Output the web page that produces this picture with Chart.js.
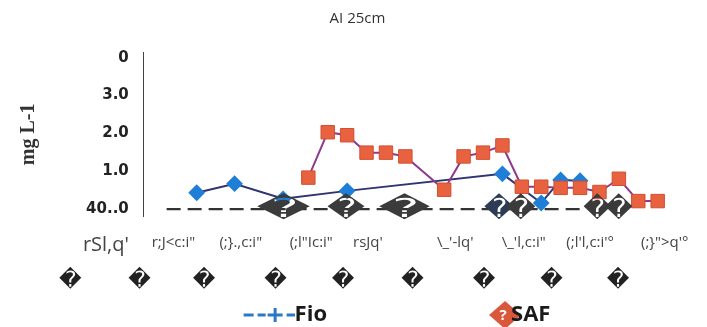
<!DOCTYPE html>
<html>
<head>
<meta charset="utf-8">
<script src="https://cdn.jsdelivr.net/npm/chart.js@4.4.1/dist/chart.umd.min.js"></script>
<style>
  html, body { margin: 0; padding: 0; background: #fff; }
</style>
</head>
<body>
<canvas id="chart" width="707" height="327"></canvas>
<script>
// values (x in weeks, y in mg L-1)
const fioX = [3.25, 5.2, 7.7, 11, 19, 21, 22, 23];
const fioY = [0.43, 0.67, 0.27, 0.48, 0.93, 0.16, 0.77, 0.75];
const safX = [9, 10, 11, 12, 13, 14, 16, 17, 18, 19, 20, 21, 22, 23, 24, 25, 26, 27];
const safY = [0.83, 2.03, 1.95, 1.49, 1.49, 1.39, 0.51, 1.39, 1.49, 1.68, 0.59, 0.59, 0.56, 0.56, 0.45, 0.80, 0.21, 0.21];

const yTicks = [0, 1, 2, 3, 4];
const yTickLabels = ['40..0', '1.0', '2.0', '3.0', '0'];
const xTickPos = [-1.43, 2.05, 5.52, 9.15, 12.07, 16.57, 20.1, 23.52, 27.36];
const xTickLabels = ["rSl,q'", 'r;J<c:i"', '(;}.,c:i"', '(;l"Ic:i"', "rsJq'", "\\_'-lq'", "\\_'l,c:i\"", "(;l'l,c:i'°", "(;}\">q'°"];
const glyphRowPos = [-3.27, 0.31, 3.63, 7.31, 10.79, 14.37, 18.05, 21.53, 24.96];
const baseGlyphX = [7.72, 10.94, 13.96, 18.82, 19.94, 23.88, 25.0];
const baseLineX = [1.7, 23.3];

// how wide each broken glyph on the axis line is stretched (px)
const glyphStretch = [54, 38, 52, 30, 30, 28, 28];

function makeIcon(w, h, draw) {
    const c = document.createElement('canvas');
    c.width = w;
    c.height = h;
    draw(c.getContext('2d'));
    return c;
}

const fioIcon = makeIcon(192, 24, function(ctx) {
    ctx.strokeStyle = '#2a78c8';
    ctx.lineWidth = 3;
    ctx.beginPath();
    [[141, 151], [155, 163], [165, 180], [184, 192]].forEach(s => {
        ctx.moveTo(s[0], 12);
        ctx.lineTo(s[1], 12);
    });
    ctx.moveTo(172.5, 5);
    ctx.lineTo(172.5, 19);
    ctx.stroke();
});

const safIcon = makeIcon(232, 30, function(ctx) {
    ctx.fillStyle = '#d9573b';
    ctx.beginPath();
    ctx.moveTo(190, 15);
    ctx.lineTo(206, 1);
    ctx.lineTo(222, 15);
    ctx.lineTo(206, 29);
    ctx.closePath();
    ctx.fill();
    ctx.fillStyle = '#fff';
    ctx.font = 'bold 15px "Open Sans"';
    ctx.textAlign = 'center';
    ctx.textBaseline = 'middle';
    ctx.fillText('?', 204, 16);
});

const baseGlyphs = {
    id: 'baseGlyphs',
    afterDatasetsDraw(chart) {
        const ctx = chart.ctx;
        const x = chart.scales.x;
        const y = chart.scales.y;
        ctx.save();
        ctx.font = '26px "DejaVu Sans"';
        ctx.textAlign = 'center';
        ctx.textBaseline = 'middle';
        const gw = ctx.measureText('\uFFFD').width;
        baseGlyphX.forEach((v, i) => {
            ctx.save();
            ctx.translate(x.getPixelForValue(v), y.getPixelForValue(0));
            ctx.scale(glyphStretch[i] / gw, 1);
            ctx.fillStyle = i === 3 ? '#2d3b55' : '#3b3b3b';
            ctx.fillText('\uFFFD', 0, 1);
            ctx.restore();
        });
        ctx.restore();
    }
};

// legend sits a bit left of centre and low in the picture
const legendNudge = {
    id: 'legendNudge',
    afterLayout(chart) {
        chart.legend.right -= 51;
        chart.legend.top += 7;
        chart.legend.bottom += 7;
    }
};

function fixedTicks(list) {
    return function(scale) {
        scale.ticks = list.map(v => ({ value: v }));
    };
}

const hiddenGrid = { display: true, drawOnChartArea: false, color: 'transparent' };

new Chart(document.getElementById('chart'), {
    type: 'line',
    data: {
        datasets: [{
            label: 'Fio',
            data: fioX.map((x, i) => ({ x: x, y: fioY[i] })),
            borderColor: '#2f3570',
            borderWidth: 2,
            pointStyle: 'rectRot',
            pointRadius: 7,
            pointBackgroundColor: '#1f7fd8',
            pointBorderColor: '#1f7fd8',
            order: 1
        }, {
            label: 'SAF',
            data: safX.map((x, i) => ({ x: x, y: safY[i] })),
            borderColor: '#8d3a8c',
            borderWidth: 2,
            pointStyle: 'rect',
            pointRadius: 9.5,
            pointBackgroundColor: '#e8623f',
            pointBorderColor: '#d24f30',
            pointBorderWidth: 1,
            order: 0,
            clip: false
        }, {
            label: 'axis',
            data: baseLineX.map(x => ({ x: x, y: 0 })),
            borderColor: '#333',
            borderWidth: 2.2,
            borderDash: [14, 7],
            pointRadius: 0,
            order: 2
        }]
    },
    options: {
        responsive: false,
        animation: false,
        layout: { padding: { left: 14, right: 6, top: 0, bottom: -2 } },
        scales: {
            x: { type: 'linear', min: -4, max: 29, display: false },
            xl: {
                type: 'linear', position: 'bottom', min: -4, max: 29,
                grid: Object.assign({ tickLength: 15 }, hiddenGrid),
                border: { display: false },
                afterBuildTicks: fixedTicks(xTickPos),
                ticks: {
                    autoSkip: false, maxRotation: 0, minRotation: 0, padding: 2, color: '#444',
                    font: c => ({ family: 'Open Sans', size: c.index === 0 ? 20 : 15 }),
                    callback: (v, i) => xTickLabels[i]
                }
            },
            xd: {
                type: 'linear', position: 'bottom', min: -4, max: 29,
                grid: { display: false }, border: { display: false },
                afterBuildTicks: fixedTicks(glyphRowPos),
                ticks: {
                    autoSkip: false, maxRotation: 0, minRotation: 0, padding: 0, color: '#222',
                    font: { family: 'DejaVu Sans', size: 22 },
                    callback: () => '\uFFFD'
                }
            },
            y: {
                type: 'linear', position: { x: -0.25 }, min: -0.2, max: 4.15,
                afterBuildTicks: fixedTicks(yTicks),
                grid: { display: false },
                border: { display: false },
                ticks: {
                    padding: 0, color: '#222',
                    font: { family: 'DejaVu Sans', size: 15, weight: 'bold' },
                    callback: (v, i) => yTickLabels[i]
                }
            },
            yline: {
                type: 'linear', position: { x: 0.5 }, min: -0.2, max: 4.15,
                grid: { display: false },
                border: { color: '#444', width: 1 },
                ticks: { display: false }
            },
            yt: {
                type: 'linear', position: 'left', min: 0, max: 1,
                grid: { display: false }, border: { display: false },
                ticks: { display: false },
                title: {
                    display: true, text: 'mg L-1', color: '#333',
                    font: { family: 'Liberation Serif', size: 20, weight: 'bold' },
                    padding: { top: 3, bottom: 3 }
                },
                afterFit: s => { s.width = 42; }
            }
        },
        plugins: {
            title: {
                display: true, text: 'AI 25cm', color: '#333',
                font: { family: 'Open Sans', size: 15, weight: 'normal' },
                padding: { top: 10, bottom: 24 }
            },
            legend: {
                position: 'bottom',
                labels: {
                    usePointStyle: true,
                    pointStyleWidth: 170,
                    padding: 3,
                    font: { family: 'Open Sans', size: 22, weight: 'bold' },
                    generateLabels: () => [
                        { text: 'Fio', pointStyle: fioIcon, fillStyle: 'transparent', strokeStyle: 'transparent', lineWidth: 0, fontColor: '#1a1a1a', datasetIndex: 0, hidden: false },
                        { text: 'SAF', pointStyle: safIcon, fillStyle: 'transparent', strokeStyle: 'transparent', lineWidth: 0, fontColor: '#1a1a1a', datasetIndex: 1, hidden: false }
                    ]
                }
            },
            tooltip: { enabled: false }
        }
    },
    plugins: [baseGlyphs, legendNudge]
});
</script>
</body>
</html>
